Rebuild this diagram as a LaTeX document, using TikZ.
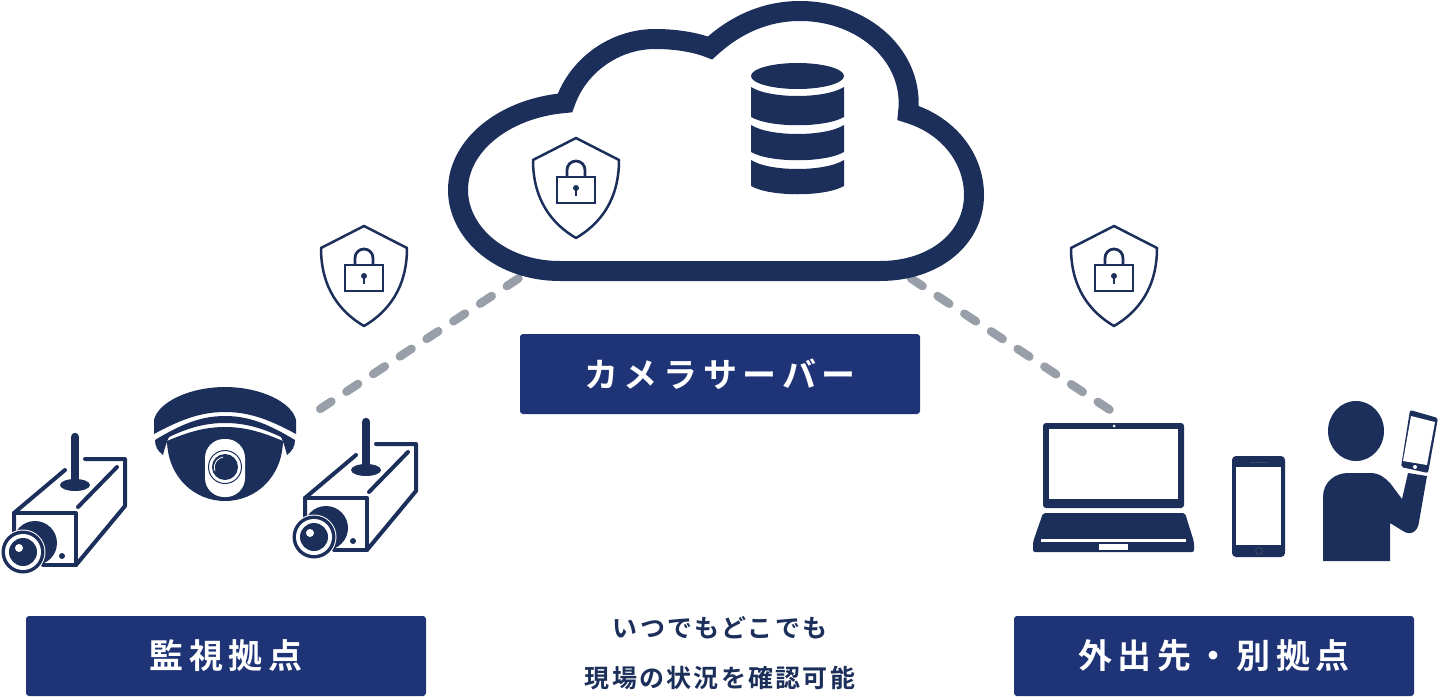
\documentclass[tikz,border=0pt]{standalone}
\usepackage{fontspec}
\newfontfamily\labelfont[LetterSpace=16.5,BoldFont={Noto Sans CJK JP Bold}]{Noto Sans CJK JP}
\newfontfamily\notefont[LetterSpace=9,BoldFont={Noto Sans CJK JP Bold}]{Noto Sans CJK JP}
\definecolor{iconnavy}{HTML}{1C2F5A}
\definecolor{boxblue}{HTML}{1F3476}
\definecolor{dashgray}{HTML}{989FA8}
\definecolor{phonemark}{HTML}{3A4868}
\tikzset{
	labelbox/.style={fill=boxblue, rounded corners=3pt, text=white, inner sep=0pt, minimum width=400pt, minimum height=80pt, font=\labelfont\bfseries\fontsize{34}{40}\selectfont},
	notetext/.style={text=iconnavy, inner sep=0pt, font=\notefont\bfseries\fontsize{25}{30}\selectfont},
	linkdash/.style={draw=dashgray, line width=8.5pt, line cap=round, dash pattern=on 14pt off 18pt},
	shieldlock/.pic={
		\draw[iconnavy, line width=2.5pt, line join=round] (0,0) -- (43,22)
			.. controls (43,62) and (24,86) .. (0,100)
			.. controls (-24,86) and (-43,62) .. (-43,22) -- cycle;
		\draw[iconnavy, line width=2.8pt] (-19,39) rectangle (19,65);
		\draw[iconnavy, line width=2.8pt] (-9,39) -- (-9,32) arc[start angle=180, end angle=360, radius=9] -- (9,39);
		\fill[iconnavy] (0,50) circle (3);
		\fill[iconnavy] (-1.2,50) rectangle (1.2,58);
	},
	boxcam/.pic={
		% Outline of the housing
		\draw[iconnavy, line width=4pt, line join=round, line cap=round] (65,470) -- (14,513) -- (14,532);
		\draw[iconnavy, line width=4pt, line join=round, line cap=round] (14,513) -- (76,513) -- (76,565) -- (43,565);
		\draw[iconnavy, line width=4pt, line join=round, line cap=round] (85,459) -- (125,459) -- (125,506) -- (76,565);
		\draw[iconnavy, line width=4pt, line cap=round] (78,507) -- (117,467);
		% Post and foot
		\fill[iconnavy] (75,485) ellipse (15 and 6);
		\draw[iconnavy, line width=8.5pt, line cap=round] (75,437) -- (75,484);
		% Lens
		\fill[iconnavy] (35,543) circle (22);
		\fill[white] (23,552) circle (22.5);
		\fill[iconnavy] (23,552) circle (21.5);
		\fill[white] (23,552) circle (18);
		\fill[iconnavy] (23,552) circle (14);
		\fill[white] (19,548) circle (4);
		\fill[iconnavy] (62,556) circle (3);
	},
}

\begin{document}
\begin{tikzpicture}[x=1pt, y=-1pt]
	\useasboundingbox (0,0) rectangle (1440,696);

	% Connectors
	\coordinate (cloudleft) at (518.5,278.4);
	\coordinate (cloudright) at (910.9,278.4);
	\coordinate (camlink) at (320.2,408.9);
	\coordinate (laptoplink) at (1109.5,409.6);
	\draw[linkdash] (cloudleft) -- (camlink);
	\draw[linkdash] (cloudright) -- (laptoplink);

	% Cloud
	\draw[iconnavy, line width=20pt, miter limit=6] (458,190)
		.. controls (458,145) and (505,108) .. (565,103)
		.. controls (578,65) and (615,39) .. (655,39)
		.. controls (675,39) and (695,42) .. (710,48)
		.. controls (735,25) and (765,11) .. (800,11)
		.. controls (865,11) and (915,58) .. (908,113)
		.. controls (948,125) and (974,158) .. (974,195)
		.. controls (974,238) and (935,271) .. (880,271)
		-- (560,271)
		.. controls (500,271) and (458,232) .. (458,190) -- cycle;

	% Database
	\foreach \upper/\lower in {87/117,125/152,160/186}
		\fill[iconnavy] (751,\upper) .. controls (770,\upper+12) and (825,\upper+12) .. (844,\upper)
			-- (844,\lower) .. controls (825,\lower+11) and (770,\lower+11) .. (751,\lower) -- cycle;
	\fill[iconnavy] (797.5,76) ellipse (46.5 and 13);

	% Shields
	\foreach \sx/\sy/\sname in {576/138/cloudshield,364/226/leftshield,1114/226/rightshield}
		\pic (\sname) at (\sx,\sy) {shieldlock};

	% Box cameras
	\foreach \cx/\cy/\cname in {0/0/leftcam,291/-15/rightcam}
		\pic (\cname) at (\cx,\cy) {boxcam};

	% Dome camera
	\fill[iconnavy] (154,434) -- (154,420) .. controls (158,402) and (190,387) .. (225,387)
		.. controls (260,387) and (292,402) .. (296,420) -- (296,434)
		.. controls (270,420) and (250,412) .. (225,412)
		.. controls (200,412) and (180,420) .. (154,434) -- cycle;
	\fill[iconnavy] (155,440) .. controls (180,425) and (200,416) .. (225,416)
		.. controls (250,416) and (270,425) .. (295,440)
		.. controls (295,447) and (292,451) .. (287,455)
		.. controls (285,447) and (283,441) .. (281,437)
		.. controls (262,428) and (245,423) .. (225,423)
		.. controls (205,423) and (188,428) .. (169,437)
		.. controls (167,441) and (165,447) .. (163,455)
		.. controls (158,451) and (155,447) .. (155,440) -- cycle;
	\fill[iconnavy] (167,441) .. controls (188,432) and (205,427) .. (225,427)
		.. controls (245,427) and (262,432) .. (283,441)
		.. controls (282,478) and (255,501) .. (225,501)
		.. controls (195,501) and (168,478) .. (167,441) -- cycle;
	\fill[white, rounded corners=19pt] (205,439) rectangle (245,497);
	\draw[iconnavy, line width=1pt] (225,467) circle (16.5);
	\fill[iconnavy] (225,467) circle (13);
	\draw[white, line width=0.8pt] (215,471) arc[start angle=160, end angle=260, radius=10.5];

	% Laptop
	\fill[iconnavy, rounded corners=3pt] (1043,423) rectangle (1184,508);
	\fill[white] (1049,429) rectangle (1178,499);
	\fill[white] (1114,426) circle (1.5);
	\fill[iconnavy, rounded corners=2pt] (1043,513) -- (1185,513) -- (1194,542) -- (1194,552) -- (1033,552) -- (1033,542) -- cycle;
	\fill[white] (1041,539) rectangle (1186,541.5);
	\fill[white] (1099,544) rectangle (1128,550);

	% Phone
	\fill[iconnavy, rounded corners=4pt] (1232,456) rectangle (1285,557);
	\fill[white] (1236,467) rectangle (1281,545);
	\fill[phonemark] (1250,461.5) rectangle (1268,463);
	\draw[phonemark, line width=0.8pt] (1259,551) circle (3.5);

	% Person with phone
	\fill[iconnavy] (1356,431) ellipse (28 and 30);
	\fill[iconnavy] (1323,561) -- (1323,497)
		.. controls (1323,482) and (1335,473) .. (1348,473) -- (1370,473)
		.. controls (1380,473) and (1385,478) .. (1390,483)
		-- (1402,499) -- (1408,473) -- (1427,476) -- (1419,522)
		.. controls (1418,532) and (1410,536) .. (1403,531)
		-- (1390,523) -- (1390,561) -- cycle;
	\fill[iconnavy, rounded corners=2pt] (1410,410) -- (1438,418) -- (1428,473) -- (1401,467) -- cycle;
	\fill[white] (1411,416) -- (1435,422) -- (1427,465) -- (1403,461) -- cycle;
	\fill[white] (1415,467) circle (2);

	% Labels
	\node[labelbox] (camerabox) at (226,656) {\raisebox{-2pt}{監視拠点}};
	\node[labelbox] (serverbox) at (720,374) {\raisebox{-2pt}{カメラサーバー}};
	\node[labelbox] (remotebox) at (1214,656) {\raisebox{-2pt}{外出先・別拠点}};
	\node[notetext] (noteone) at (720,628) {いつでもどこでも};
	\node[notetext] (notetwo) at (720,678) {現場の状況を確認可能};
\end{tikzpicture}
\end{document}
